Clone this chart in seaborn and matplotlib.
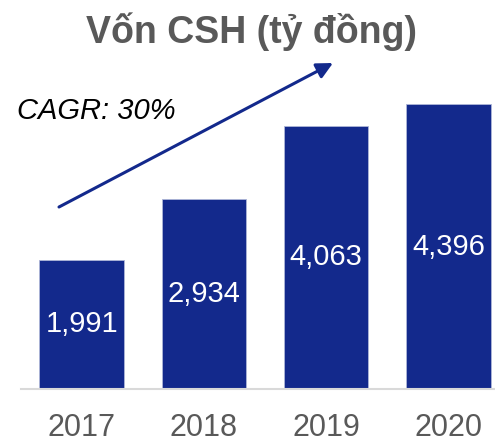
import matplotlib
matplotlib.use("Agg")
import matplotlib.pyplot as plt
import seaborn as sns
import pandas as pd

years = ["2017", "2018", "2019", "2020"]
equity = [1991, 2934, 4063, 4396]
title = "Vốn CSH (tỷ đồng)"
cagr_text = "CAGR: 30%"

navy = "#13298C"
grey = "#595959"

sns.set_theme(style="white")
plt.rcParams['font.family'] = ['Liberation Sans', 'DejaVu Sans']

df = pd.DataFrame({'Year': years, 'Equity': equity})

fig = plt.figure(figsize=(4.95, 4.42), dpi=100)
ax = fig.add_axes([20.5 / 495, 53 / 442, 1 - 20.5 / 495, 389 / 442])

sns.barplot(data=df, x='Year', y='Equity', color=navy, saturation=1,
            width=0.69, ax=ax, edgecolor='#AEB6D8', linewidth=0.6)

ax.bar_label(ax.containers[0], labels=[f"{v:,}" for v in equity],
             label_type='center', color='white', fontsize=21)

ax.set_xlim(-0.5, 3.38)
ax.set_ylim(0, 6003)
ax.set_xlabel('')
ax.set_ylabel('')
ax.set_yticks([])
for s in ['top', 'right', 'left']:
    ax.spines[s].set_visible(False)
ax.spines['bottom'].set_color('#D9D9D9')
ax.spines['bottom'].set_linewidth(1.5)
ax.tick_params(axis='x', length=0, pad=17, labelsize=22, labelcolor=grey)

fig.text(252 / 495, 1 - 32 / 442, title, ha='center', va='center',
         fontsize=27, fontweight='bold', color=grey)
fig.text(17 / 495, 1 - 111 / 442, cagr_text, ha='left', va='center',
         fontsize=21, style='italic', color='black')

ax.annotate('', xy=(333 / 495, 1 - 63 / 442), xycoords='figure fraction',
            xytext=(59 / 495, 1 - 207 / 442), textcoords='figure fraction',
            arrowprops=dict(arrowstyle='-|>,head_length=0.8,head_width=0.4',
                            color=navy, lw=2.2, shrinkA=0, shrinkB=0))

fig.savefig('out.png', dpi=100)
